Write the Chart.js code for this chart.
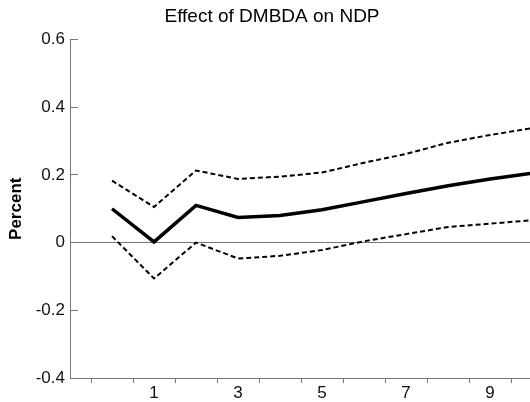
<!DOCTYPE html>
<html>
<head>
<meta charset="utf-8">
<title>Effect of DMBDA on NDP</title>
<script src="https://cdn.jsdelivr.net/npm/chart.js@4"></script>
<style>
  html, body { margin: 0; padding: 0; background: #fff; overflow: hidden; }
  #irf { display: block; }
</style>
</head>
<body>
<canvas id="irf" width="530" height="402"></canvas>
<script>
// impulse response horizons and the estimated response with its bands
const horizons = [0, 1, 2, 3, 4, 5, 6, 7, 8, 9, 10];
const response = [0.100, 0.002, 0.110, 0.074, 0.080, 0.097, 0.121, 0.145, 0.168, 0.188, 0.205];
const upperBand = [0.183, 0.105, 0.213, 0.188, 0.195, 0.207, 0.236, 0.262, 0.295, 0.318, 0.338];
const lowerBand = [0.019, -0.106, 0.000, -0.047, -0.039, -0.022, 0.004, 0.025, 0.046, 0.056, 0.066];

const yTicks = [-0.4, -0.2, 0, 0.2, 0.4, 0.6];
const xTickMarks = [-0.5, 0.5, 1.5, 2.5, 3.5, 4.5, 5.5, 6.5, 7.5, 8.5, 9.5];
const xTickLabels = [1, 3, 5, 7, 9];

const chartTitle = 'Effect of DMBDA on NDP';
const axisGrey = '#777777';
const fontFamily = '"Liberation Sans", Arial, Helvetica, sans-serif';

function points(values) {
  return horizons.map((h, i) => ({ x: h, y: values[i] }));
}

const isLabelTick = v => xTickLabels.includes(v);

// title sits a little right of the canvas centre, so it is drawn by hand
const titlePlugin = {
  id: 'plotTitle',
  afterDraw(chart) {
    const ctx = chart.ctx;
    ctx.save();
    ctx.fillStyle = '#000';
    ctx.font = '19px ' + fontFamily;
    ctx.textAlign = 'center';
    ctx.textBaseline = 'middle';
    ctx.fillText(chartTitle, 272, 17);
    ctx.restore();
  },
};

new Chart(document.getElementById('irf').getContext('2d'), {
  type: 'line',
  data: {
    datasets: [
      {
        label: 'Upper band',
        data: points(upperBand),
        borderColor: '#000',
        borderWidth: 2,
        borderDash: [5, 3],
        pointRadius: 0,
        tension: 0,
      },
      {
        label: 'Response',
        data: points(response),
        borderColor: '#000',
        borderWidth: 3.5,
        pointRadius: 0,
        tension: 0,
      },
      {
        label: 'Lower band',
        data: points(lowerBand),
        borderColor: '#000',
        borderWidth: 2,
        borderDash: [5, 3],
        pointRadius: 0,
        tension: 0,
      },
    ],
  },
  plugins: [titlePlugin],
  options: {
    responsive: false,
    animation: false,
    layout: { padding: { top: 39.5, left: 0, right: 0, bottom: 0 } },
    plugins: {
      legend: { display: false },
      tooltip: { enabled: false },
      title: { display: false },
    },
    scales: {
      x: {
        type: 'linear',
        min: -1,
        max: 9.95,
        afterBuildTicks: scale => {
          const vals = xTickMarks.concat(xTickLabels).sort((a, b) => a - b);
          scale.ticks = vals.map(v => ({ value: v }));
        },
        afterFit: scale => { scale.height = 24; },
        border: { color: axisGrey, width: 1 },
        grid: {
          drawOnChartArea: false,
          tickLength: 5,
          tickWidth: 1,
          tickColor: ctx => (isLabelTick(ctx.tick.value) ? 'rgba(0,0,0,0)' : axisGrey),
        },
        ticks: {
          autoSkip: false,
          maxRotation: 0,
          padding: 0,
          color: '#111',
          font: { family: fontFamily, size: 17 },
          callback: v => (isLabelTick(v) ? String(v) : ''),
        },
      },
      y: {
        min: -0.4,
        max: 0.6,
        afterBuildTicks: scale => {
          scale.ticks = yTicks.map(v => ({ value: v }));
        },
        afterFit: scale => { scale.width = 70; },
        border: { color: axisGrey, width: 1 },
        grid: {
          drawOnChartArea: true,
          // inward tick marks, only the zero line runs across the plot
          tickLength: -8,
          tickWidth: 1,
          tickColor: axisGrey,
          color: ctx => (ctx.tick && ctx.tick.value === 0 ? axisGrey : 'rgba(0,0,0,0)'),
          lineWidth: 1,
        },
        ticks: {
          padding: 13,
          color: '#111',
          font: { family: fontFamily, size: 17 },
          callback: v => (Math.abs(v) < 1e-9 ? '0' : v.toFixed(1)),
        },
        title: {
          display: true,
          text: 'Percent',
          color: '#000',
          font: { family: fontFamily, size: 17, weight: 'bold' },
          padding: { top: 6.5, bottom: 0 },
        },
      },
    },
  },
});
</script>
</body>
</html>
